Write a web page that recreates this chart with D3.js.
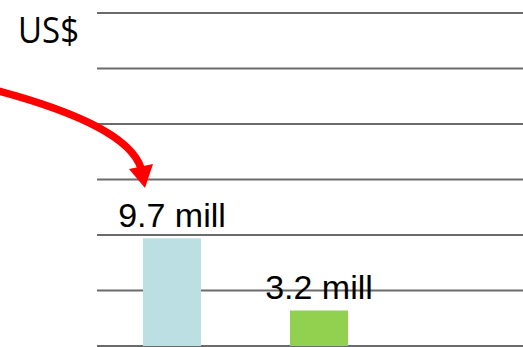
<!DOCTYPE html>
<html><head><meta charset="utf-8">
<script src="https://cdn.jsdelivr.net/npm/d3@7"></script>
<style>html,body{margin:0;padding:0;background:#fff;overflow:hidden}</style>
</head><body>
<svg id="c" width="523" height="347"></svg>
<script>
const categories = ["A", "B"];
const values = [9.7, 3.2];
const labels = ["9.7 mill", "3.2 mill"];
const colors = ["#bcdfe3", "#92d050"];
const yTicks = [0, 5, 10, 15, 20, 25, 30];
const unitLabel = "US$";

const svg = d3.select("#c");
const y = d3.scaleLinear().domain([0, 30]).range([346, 13]);
const x = d3.scaleBand().domain(categories).range([97, 394]).paddingInner(0.6054).paddingOuter(0.313);

svg.append("g").selectAll("line").data(yTicks).join("line")
  .attr("x1", 97).attr("x2", 523)
  .attr("y1", d => y(d)).attr("y2", d => y(d))
  .attr("stroke", "#6b6b6b").attr("stroke-width", 2.2);

svg.append("g").selectAll("rect").data(values).join("rect")
  .attr("x", (d, i) => x(categories[i]))
  .attr("width", x.bandwidth())
  .attr("y", d => y(d))
  .attr("height", d => y(0) - y(d))
  .attr("fill", (d, i) => colors[i]);

svg.append("g").selectAll("text").data(values).join("text")
  .attr("x", (d, i) => x(categories[i]) + x.bandwidth() / 2)
  .attr("y", d => y(d) - 11.5)
  .attr("text-anchor", "middle")
  .attr("font-family", "Liberation Sans, Arial, sans-serif")
  .attr("font-size", 34)
  .attr("fill", "#000")
  .text((d, i) => labels[i]);

svg.append("text")
  .attr("x", 18).attr("y", 43)
  .attr("font-family", "Open Sans, sans-serif")
  .attr("font-size", 37)
  .attr("textLength", 61).attr("lengthAdjust", "spacingAndGlyphs")
  .attr("fill", "#000")
  .text(unitLabel);

// curved red annotation arrow
svg.append("path")
  .attr("d", "M-5,90 C70,110 130,135 141,168")
  .attr("fill", "none").attr("stroke", "#ff0000").attr("stroke-width", 7.5);
svg.append("path")
  .attr("d", "M129,169 L153,164 L145,188 Z")
  .attr("fill", "#ff0000");
</script>
</body></html>
